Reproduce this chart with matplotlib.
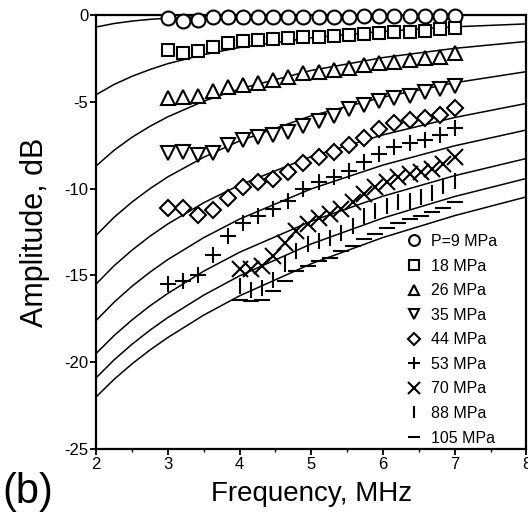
import matplotlib
matplotlib.use('Agg')
import matplotlib.pyplot as plt
from matplotlib.ticker import MultipleLocator

plt.rcParams['font.family'] = ['Liberation Sans', 'DejaVu Sans']
plt.rcParams['axes.unicode_minus'] = False

# measured points: 9..53 MPa on one grid, 70..105 MPa start at 4 MHz
freq_a = [3.00, 3.21, 3.42, 3.63, 3.84, 4.05, 4.26, 4.47, 4.68, 4.89,
          5.11, 5.32, 5.53, 5.74, 5.95, 6.16, 6.37, 6.58, 6.79, 7.00]
freq_b = [4.00, 4.16, 4.32, 4.47, 4.63, 4.79, 4.95, 5.11, 5.26, 5.42,
          5.58, 5.74, 5.89, 6.05, 6.21, 6.37, 6.53, 6.68, 6.84, 7.00]

p9 = [-0.20, -0.33, -0.30, -0.15, -0.12, -0.15, -0.15, -0.15, -0.12, -0.12,
      -0.10, -0.10, -0.10, -0.08, -0.08, -0.05, -0.05, -0.05, -0.05, -0.05]
p18 = [-2.05, -2.17, -2.11, -1.83, -1.63, -1.50, -1.44, -1.40, -1.34, -1.28,
       -1.25, -1.21, -1.18, -1.08, -1.05, -1.00, -0.96, -0.92, -0.84, -0.77]
p26 = [-4.80, -4.74, -4.67, -4.36, -4.13, -4.03, -3.90, -3.74, -3.59, -3.35,
       -3.27, -3.17, -3.05, -2.90, -2.80, -2.70, -2.60, -2.50, -2.40, -2.17]
p35 = [-7.97, -7.87, -8.06, -7.97, -7.49, -7.20, -7.01, -6.91, -6.72, -6.38,
       -6.10, -5.80, -5.45, -5.20, -4.98, -4.78, -4.66, -4.47, -4.28, -4.08]
p44 = [-11.10, -11.15, -11.50, -11.25, -10.55, -9.90, -9.60, -9.43, -9.05, -8.55,
       -8.18, -7.89, -7.50, -7.10, -6.60, -6.25, -6.05, -5.92, -5.78, -5.38]
p53 = [-15.50, -15.34, -14.99, -13.83, -12.73, -12.00, -11.57, -11.19, -10.70, -10.05,
       -9.64, -9.35, -8.97, -8.49, -8.00, -7.62, -7.39, -7.23, -6.94, -6.50]
p70 = [-14.66, -14.66, -14.47, -13.89, -13.12, -12.44, -12.06, -11.67, -11.48, -11.19,
       -10.80, -10.32, -9.94, -9.65, -9.36, -9.16, -9.07, -8.87, -8.58, -8.20]
p88 = [-15.62, -15.82, -15.72, -15.24, -14.37, -13.60, -13.21, -13.02, -12.83, -12.54,
       -12.15, -11.57, -11.28, -11.00, -10.80, -10.70, -10.51, -10.23, -9.84, -9.55]
p105 = [-16.40, -16.49, -16.40, -15.91, -15.30, -14.76, -14.47, -14.18, -13.99, -13.60,
        -13.31, -12.90, -12.63, -12.25, -11.96, -11.77, -11.57, -11.38, -11.13, -10.80]

labels = ['P=9 MPa', '18 MPa', '26 MPa', '35 MPa', '44 MPa',
          '53 MPa', '70 MPa', '88 MPa', '105 MPa']

fit_f = [2.0, 2.25, 2.5, 2.75, 3.0, 3.5, 4.0, 5.0, 6.0, 7.0, 8.0]
fit1 = [-0.70, -0.50, -0.36, -0.26, -0.19, -0.10, -0.05, -0.02, -0.01, 0.0, 0.0]
fit2 = [-4.60, -4.01, -3.54, -3.15, -2.81, -2.29, -1.88, -1.32, -0.95, -0.69, -0.52]
fit3 = [-8.70, -7.80, -7.05, -6.42, -5.87, -4.97, -4.26, -3.20, -2.46, -1.93, -1.53]
fit4 = [-12.70, -11.66, -10.78, -10.01, -9.33, -8.20, -7.26, -5.81, -4.74, -3.91, -3.27]
fit5 = [-15.50, -14.45, -13.55, -12.75, -12.04, -10.82, -9.80, -8.16, -6.91, -5.91, -5.10]
fit6 = [-17.60, -16.55, -15.63, -14.82, -14.09, -12.83, -11.76, -10.02, -8.65, -7.54, -6.63]
fit7 = [-19.50, -18.47, -17.57, -16.76, -16.04, -14.76, -13.67, -11.88, -10.44, -9.26, -8.27]
fit8 = [-20.90, -19.87, -18.97, -18.16, -17.43, -16.14, -15.03, -13.19, -11.70, -10.46, -9.42]
fit9 = [-22.00, -20.99, -20.10, -19.30, -18.58, -17.29, -16.18, -14.33, -12.82, -11.56, -10.48]

fig = plt.figure(figsize=(5.28, 5.12), dpi=100)
ax = fig.add_axes([0.182, 0.123, 0.815, 0.848])

for fit in [fit1, fit2, fit3, fit4, fit5, fit6, fit7, fit8, fit9]:
    ax.plot(fit_f, fit, color='k', lw=1.1, zorder=2)

series = [(freq_a, p9, 'o', 10), (freq_a, p18, 's', 9), (freq_a, p26, '^', 10),
          (freq_a, p35, 'v', 10), (freq_a, p44, 'D', 8), (freq_a, p53, '+', 11),
          (freq_b, p70, 'x', 11), (freq_b, p88, '|', 11), (freq_b, p105, '_', 11)]
for (fx, fy, mk, ms), lab in zip(series, labels):
    ax.plot(fx, fy, ls='none', marker=mk, ms=ms, mfc='white', mec='k',
            mew=1.5, label=lab, zorder=3, clip_on=False)

ax.set_xlim(2, 8)
ax.set_ylim(-25, 0)
ax.xaxis.set_major_locator(MultipleLocator(1))
ax.xaxis.set_minor_locator(MultipleLocator(0.5))
ax.yaxis.set_major_locator(MultipleLocator(5))
ax.tick_params(axis='both', which='major', direction='out', length=4, width=1.3,
               labelsize=12, pad=1.5)
ax.tick_params(axis='x', which='minor', direction='out', length=2.5, width=1.0)
for sp in ax.spines.values():
    sp.set_linewidth(1.6)

ax.set_xlabel('Frequency, MHz', fontsize=20, labelpad=7)
ax.set_ylabel('Amplitude, dB', fontsize=22, labelpad=10)

leg = ax.legend(loc='lower left', bbox_to_anchor=(0.69, -0.018), frameon=False,
                fontsize=11.5, handletextpad=0.45, labelspacing=0.6,
                handlelength=1.2, borderpad=0.2, markerscale=0.78)

fig.text(0.005, 0.018, '(b)', fontsize=30)

plt.savefig('out.png', dpi=100)
